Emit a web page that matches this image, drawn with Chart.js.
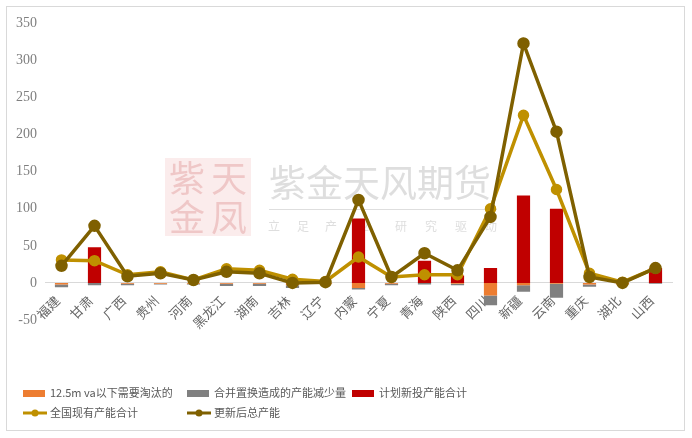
<!DOCTYPE html>
<html>
<head>
<meta charset="utf-8">
<script src="https://cdn.jsdelivr.net/npm/chart.js@4"></script>
<style>
  body { margin: 0; background: #fff; }
  #box { position: absolute; left: 6px; top: 6px; width: 677px; height: 423px; border: 1px solid #d9d9d9; }
</style>
</head>
<body>
<div id="box"><canvas id="chart" width="677" height="423"></canvas></div>
<script>
var provinces = ['福建','甘肃','广西','贵州','河南','黑龙江','湖南','吉林','辽宁','内蒙','宁夏','青海','陕西','四川','新疆','云南','重庆','湖北','山西']
var phaseOut = [-2,0,-1,-1,-1,-1,-1,-3,-1,-7,-1,0,-1,-17,-3,-1,-2,-2,0]
var mergeCut = [-4,-3,-2,-1,-1,-3,-3,-4,0,-2,-2,-2,-2,-13,-9,-19,-3,0,-1]
var newPlanned = [0,48,0,0,0,0,0,0,0,87,0,30,10,20,118,100,0,0,20]
var existing = [31,30,11,15,4,19,17,5,2,35,8,11,11,100,226,126,13,1,20]
var afterUpdate = [23,77,9,13,4,15,13,0,1,112,8,40,17,89,323,204,8,0,20]
var yTicks = [-50,0,50,100,150,200,250,300,350]

var serif = '"Liberation Serif", serif'
var cjk = '"Noto Sans CJK SC", sans-serif'

// watermark behind the series
var watermark = {
  id: 'watermark',
  beforeDatasetsDraw: function(chart) {
    var c = chart.ctx
    c.save()
    c.fillStyle = 'rgba(235,170,170,0.22)'
    c.fillRect(158, 151, 86, 78)
    c.fillStyle = 'rgba(215,120,120,0.32)'
    c.font = '36px ' + cjk
    c.textBaseline = 'middle'
    c.textAlign = 'center'
    c.fillText('紫', 180, 171); c.fillText('天', 222, 171)
    c.fillText('金', 180, 210); c.fillText('凤', 222, 210)
    c.fillStyle = 'rgba(200,200,200,0.6)'
    c.font = '37px ' + cjk
    c.textAlign = 'left'
    c.fillText('紫金天风期货', 262, 176)
    c.fillRect(262, 202, 228, 1)
    c.font = '12px ' + cjk
    var sub = ['立','足','产','业','研','究','驱','动']
    var xs = [261, 290, 318, 350, 388, 418, 448, 478]
    for (var i = 0; i < sub.length; i++) c.fillText(sub[i], xs[i], 219)
    c.restore()
  }
}

// legend laid out as a grid like the original
var gridLegend = {
  id: 'gridLegend',
  afterDraw: function(chart) {
    var c = chart.ctx
    var ds = chart.data.datasets
    var spots = [[16,386],[180,386],[345,386],[16,406],[180,406]]
    c.save()
    c.font = '11px ' + cjk
    c.textBaseline = 'middle'
    c.textAlign = 'left'
    ds.forEach(function(d, i) {
      var x = spots[i][0], y = spots[i][1]
      if (d.type === 'line') {
        c.strokeStyle = d.borderColor
        c.lineWidth = 3
        c.beginPath(); c.moveTo(x, y); c.lineTo(x + 24, y); c.stroke()
        c.fillStyle = d.borderColor
        c.beginPath(); c.arc(x + 12, y, 3.5, 0, Math.PI * 2); c.fill()
      } else {
        c.fillStyle = d.backgroundColor
        c.fillRect(x, y - 3, 22, 7)
      }
      c.fillStyle = '#595959'
      c.fillText(d.label, x + 27, y)
    })
    c.restore()
  }
}

var config = {
  type: 'bar',
  data: {
    labels: provinces,
    datasets: [
      {label: '12.5m va以下需要淘汰的', data: phaseOut, backgroundColor: '#ED7D31', order: 2},
      {label: '合并置换造成的产能减少量', data: mergeCut, backgroundColor: '#808080', order: 2},
      {label: '计划新投产能合计', data: newPlanned, backgroundColor: '#C00000', order: 2},
      {label: '全国现有产能合计', data: existing, type: 'line', stack: 'a', borderColor: '#BF9000', backgroundColor: '#BF9000',
        borderWidth: 3.5, pointRadius: 4, pointBackgroundColor: '#BF9000', order: 1},
      {label: '更新后总产能', data: afterUpdate, type: 'line', stack: 'b', borderColor: '#7F6000', backgroundColor: '#7F6000',
        borderWidth: 3.5, pointRadius: 4.5, pointBackgroundColor: '#7F6000', order: 0}
    ]
  },
  options: {
    responsive: false,
    animation: false,
    barPercentage: 0.8,
    categoryPercentage: 0.5,
    layout: {padding: {left: 0, right: 12, top: 10, bottom: 110}},
    plugins: {legend: {display: false}, tooltip: {enabled: false}},
    scales: {
      x: {
        stacked: true,
        position: {y: 0},
        grid: {display: false, drawTicks: false},
        border: {color: '#d9d9d9', width: 1},
        ticks: {minRotation: 45, maxRotation: 45, padding: 10, labelOffset: -4, color: '#666666', font: {family: cjk, size: 13}}
      },
      y: {
        stacked: true,
        min: -50, max: 350,
        afterBuildTicks: function(s) { s.ticks = yTicks.map(function(v) { return {value: v} }) },
        afterFit: function(s) { s.width = 38 },
        grid: {display: false, drawTicks: false},
        border: {display: false},
        ticks: {padding: 8, color: '#7f7f7f', font: {family: serif, size: 14}}
      }
    }
  },
  plugins: [watermark, gridLegend]
}
var la = new Chart(document.getElementById('chart'), config)
</script>
</body>
</html>
